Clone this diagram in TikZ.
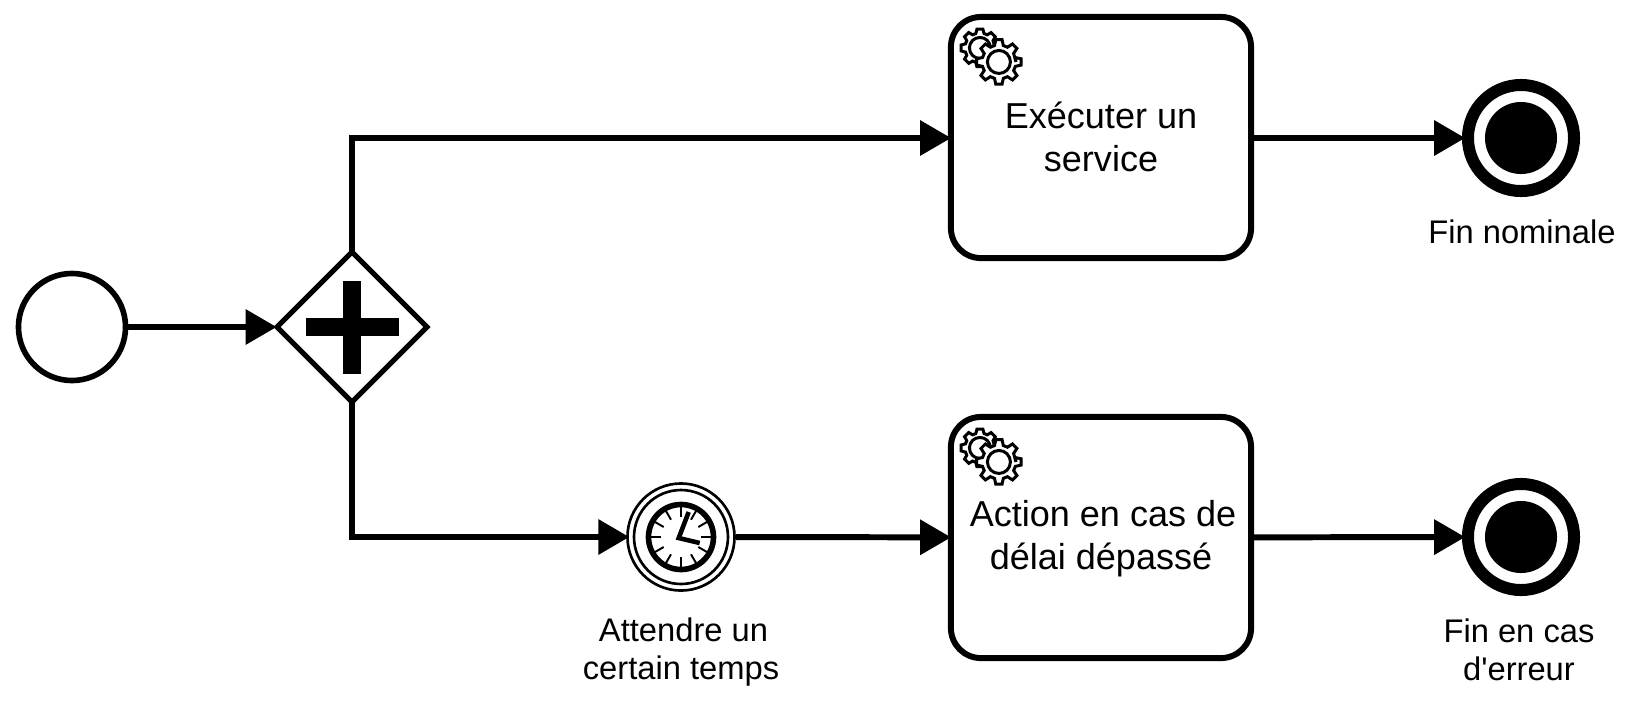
\documentclass[tikz,border=0pt]{standalone}
\usepackage{fontspec}
\setmainfont{Liberation Sans}
\usetikzlibrary{arrows.meta,calc,shapes.geometric}

\tikzset{
    flow/.style={line width=1.7pt, shorten >=-0.9pt, -{Triangle[length=8.8pt,width=9.7pt]}},
    startev/.style={draw, circle, line width=1.6pt, fill=white, minimum size=1.07cm, inner sep=0pt},
    gateway/.style={draw, diamond, line width=1.42pt, fill=white, minimum width=1.52cm, minimum height=1.52cm, inner sep=0pt},
    task/.style={draw, rectangle, rounded corners=0.3cm, line width=1.7pt, fill=white,
        minimum width=3.00cm, minimum height=2.41cm, align=center, inner sep=0pt,
        font=\fontsize{10.25pt}{12.2pt}\selectfont},
    endev/.style={draw, circle, line width=0.12cm, fill=white, minimum size=1.06cm, inner sep=0pt},
    enddot/.style={circle, fill=black, minimum size=0.72cm, inner sep=0pt},
    timer/.style={draw, circle, line width=0.75pt, fill=white, minimum size=1.07cm, inner sep=0pt},
    label/.style={align=center, inner sep=0pt, font=\fontsize{9.3pt}{10.85pt}\selectfont},
    gears/.pic={
        \draw[line width=0.85pt, fill=white] (32,34) ++(0:15)
            \foreach \a in {0,45,...,315} {
                -- ($(32,34)+(\a-16:15)$) -- ($(32,34)+(\a-9:19)$)
                -- ($(32,34)+(\a+9:19)$) -- ($(32,34)+(\a+16:15)$)
            } -- cycle;
        \draw[line width=0.85pt] (32,34) circle (10.5);
        \draw[line width=0.85pt, fill=white] (51,48) ++(0:17)
            \foreach \a in {0,45,...,315} {
                -- ($(51,48)+(\a-15:17)$) -- ($(51,48)+(\a-8:22.5)$)
                -- ($(51,48)+(\a+8:22.5)$) -- ($(51,48)+(\a+15:17)$)
            } -- cycle;
        \draw[line width=0.85pt] (51,48) circle (11.5);
    },
    clockface/.pic={
        \draw[line width=0.75pt] (0,0) circle (47);
        \draw[line width=1.6pt] (0,0) circle (32.5);
        \foreach \a in {0,30,...,330}
            \draw[line width=0.55pt] (\a:20) -- (\a:30);
        \draw[line width=1.3pt] (7.7,-25) -- (-2.3,1) -- (18.7,6);
    },
}

\begin{document}
\begin{tikzpicture}[x=0.01cm, y=-0.01cm]
    \path[fill=white, use as bounding box] (0,0) rectangle (1635,711);
    % events and gateway
    \node[startev] (start) at (72,327) {};
    \node[gateway] (gw) at (352,327) {};
    \fill ($(gw)+(-46.5,-9)$) rectangle ($(gw)+(46.5,9)$);
    \fill ($(gw)+(-9,-46.5)$) rectangle ($(gw)+(9,46.5)$);
    % tasks
    \node[task] (service) at (1101,137.5) {Exécuter un\\service\rule[-0.6pt]{0pt}{1pt}};
    \node[task] (action) at (1101,537.5) {\rule{0pt}{7.9pt}\hspace*{0.04cm}Action en cas de\\délai dépassé};
    \pic at (service.north west) {gears};
    \pic at (action.north west) {gears};
    % timer
    \node[timer] (wait) at (681,537) {};
    \pic at (wait) {clockface};
    \node[label] (waitlbl) at (681,652) {\hspace*{0.05cm}Attendre un\\certain temps};
    % ends
    \node[endev] (endok) at (1521,138) {};
    \node[enddot] (endokdot) at (endok) {};
    \node[label] (endoklbl) at (1522,232) {Fin nominale};
    \node[endev] (endko) at (1521,537) {};
    \node[enddot] (endkodot) at (endko) {};
    \node[label] (endkolbl) at (1519,650) {Fin en cas\\d\textquotesingle erreur};
    % flows
    \draw[flow] (start) -- (gw);
    \draw[flow, shorten <=-1.3pt] (gw.north) |- (service.west |- endok);
    \draw[flow, shorten <=-1.3pt] (gw.south) |- (wait);
    \draw[flow] (wait) -- (action);
    \draw[flow] (service.east |- endok) -- (endok);
    \draw[flow] (action) -- (endko);
\end{tikzpicture}
\end{document}
